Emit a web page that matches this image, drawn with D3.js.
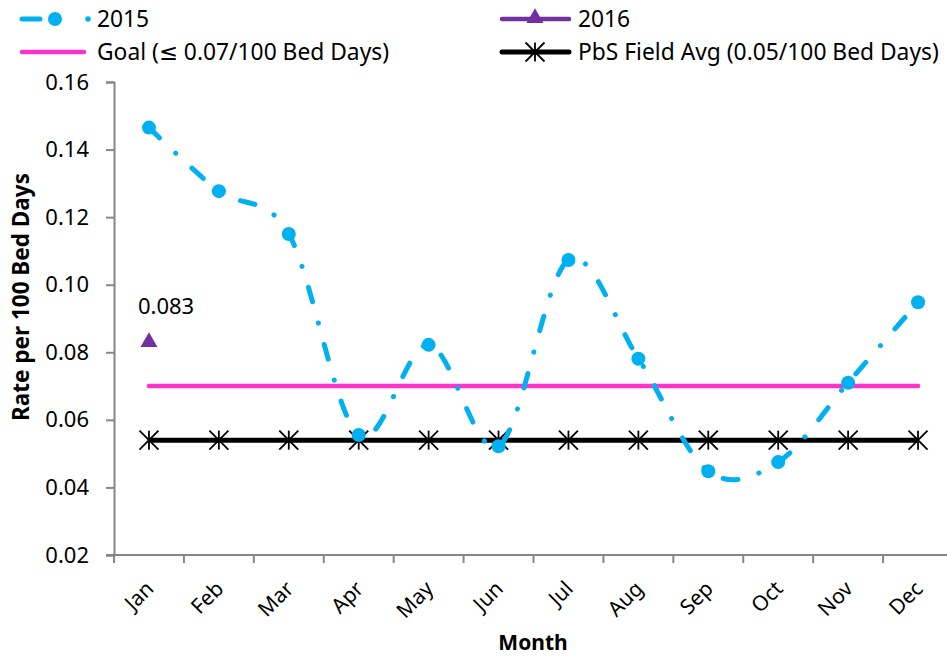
<!DOCTYPE html>
<html>
<head>
<meta charset="utf-8">
<script src="https://cdn.jsdelivr.net/npm/d3@7"></script>
<style>
  body { margin: 0; background: #fff; }
  svg text { font-family: "Noto Sans", "DejaVu Sans", sans-serif; fill: #000; }
</style>
</head>
<body>
<script>
const months = ['Jan', 'Feb', 'Mar', 'Apr', 'May', 'Jun', 'Jul', 'Aug', 'Sep', 'Oct', 'Nov', 'Dec'];
const rate2015 = [0.1465, 0.1277, 0.115, 0.0555, 0.0822, 0.0522, 0.1073, 0.0781, 0.0448, 0.0475, 0.0710, 0.0948];
const rate2016 = [0.083];
const goal = 0.07;
const fieldAvg = 0.054;
const yTicks = [0.02, 0.04, 0.06, 0.08, 0.10, 0.12, 0.14, 0.16];

const width = 947;
const height = 656;
const margin = { left: 114, right: -6, top: 82, bottom: 101 };

const svg = d3.select('body').append('svg')
  .attr('width', width)
  .attr('height', height)
;

const x = d3.scaleBand()
  .domain(months)
  .range([margin.left, width - margin.right])
;
const y = d3.scaleLinear()
  .domain([0.02, 0.16])
  .range([height - margin.bottom, margin.top])
;
const cx = m => x(m) + x.bandwidth() / 2;

const axisColor = '#868686';
const cyan = '#00B0F0';
const purple = '#7030A0';
const pink = '#FF33CC';

// y axis
const yAxis = svg.append('g')
  .attr('transform', `translate(${margin.left},0)`)
  .call(d3.axisLeft(y).tickValues(yTicks).tickFormat(d3.format('.2f')).tickSize(8).tickPadding(17));
yAxis.select('.domain').attr('stroke', axisColor).attr('stroke-width', 2);
yAxis.selectAll('.tick line').attr('stroke', axisColor).attr('stroke-width', 2);
yAxis.selectAll('.tick text').style('font-size', '22px');

// x axis, ticks at category boundaries
const xAxisG = svg.append('g')
  .attr('transform', `translate(0,${y(0.02)})`);
xAxisG.append('line')
  .attr('x1', margin.left - 8).attr('x2', width - margin.right)
  .attr('stroke', axisColor).attr('stroke-width', 2);
xAxisG.selectAll('.xtick')
  .data(months)
  .enter().append('line')
  .attr('x1', d => x(d)).attr('x2', d => x(d))
  .attr('y1', 0).attr('y2', 8)
  .attr('stroke', axisColor).attr('stroke-width', 2);
xAxisG.selectAll('.xlabel')
  .data(months)
  .enter().append('text')
  .attr('transform', d => `translate(${cx(d) + 6},${35}) rotate(-45)`)
  .attr('text-anchor', 'end')
  .style('font-size', '21px')
  .text(d => d);

// axis titles
svg.append('text')
  .attr('x', 533).attr('y', 650)
  .attr('text-anchor', 'middle')
  .style('font-size', '21px').style('font-weight', 'bold')
  .text('Month');
svg.append('text')
  .attr('transform', 'translate(29,297) rotate(-90)')
  .attr('text-anchor', 'middle')
  .style('font-size', '22.5px').style('font-weight', 'bold')
  .text('Rate per 100 Bed Days');

// goal line
svg.append('line')
  .attr('x1', cx('Jan')).attr('x2', cx('Dec'))
  .attr('y1', y(goal)).attr('y2', y(goal))
  .attr('stroke', pink).attr('stroke-width', 4.5)
  .attr('stroke-linecap', 'round');

// field avg line with star markers
svg.append('line')
  .attr('x1', cx('Jan')).attr('x2', cx('Dec'))
  .attr('y1', y(fieldAvg)).attr('y2', y(fieldAvg))
  .attr('stroke', '#000').attr('stroke-width', 5);

function star(g, px, py, r) {
  [[0, -r, 0, r],
   [-r, -r, r, r],
   [-r, r, r, -r]]
    .forEach(s => g.append('line')
      .attr('x1', px + s[0]).attr('y1', py + s[1])
      .attr('x2', px + s[2]).attr('y2', py + s[3])
      .attr('stroke', '#000').attr('stroke-width', 1.8));
}
const starLayer = svg.append('g');
months.forEach(m => star(starLayer, cx(m), y(fieldAvg), 9.5));

// 2015 smoothed dash-dot line
const line = d3.line()
  .x((d, i) => cx(months[i]))
  .y(d => y(d))
  .curve(d3.curveCardinal.tension(0));
svg.append('path')
  .datum(rate2015)
  .attr('d', line)
  .attr('fill', 'none')
  .attr('stroke', cyan)
  .attr('stroke-width', 5)
  .attr('stroke-linecap', 'round')
  .attr('stroke-dasharray', '15 22 0.1 22');
svg.append('g')
  .selectAll('circle')
  .data(rate2015)
  .enter().append('circle')
  .attr('cx', (d, i) => cx(months[i]))
  .attr('cy', d => y(d))
  .attr('r', 7)
  .attr('fill', cyan);

// 2016
const tri = d3.symbol().type(d3.symbolTriangle).size(125);
svg.append('g')
  .selectAll('path')
  .data(rate2016)
  .enter().append('path')
  .attr('d', tri)
  .attr('transform', (d, i) => `translate(${cx(months[i])},${y(d)})`)
  .attr('fill', purple);
svg.append('g')
  .selectAll('text')
  .data(rate2016)
  .enter().append('text')
  .attr('x', (d, i) => cx(months[i]) - 11)
  .attr('y', d => y(d) - 28)
  .style('font-size', '22px')
  .text(d => d3.format('.3f')(d));

// legend
const lg = svg.append('g');
const legendText = (tx, ty, t) => lg.append('text')
  .attr('x', tx).attr('y', ty).attr('dy', '0.35em')
  .style('font-size', '22.8px').text(t);

// 2015
lg.append('line').attr('x1', 22).attr('x2', 40).attr('y1', 19).attr('y2', 19)
  .attr('stroke', cyan).attr('stroke-width', 5).attr('stroke-linecap', 'round');
lg.append('circle').attr('cx', 55).attr('cy', 19).attr('r', 7).attr('fill', cyan);
lg.append('circle').attr('cx', 88).attr('cy', 19).attr('r', 2.8).attr('fill', cyan);
legendText(97, 19, '2015');

// 2016
lg.append('line').attr('x1', 502).attr('x2', 569).attr('y1', 19).attr('y2', 19)
  .attr('stroke', purple).attr('stroke-width', 4.5).attr('stroke-linecap', 'round');
lg.append('path').attr('d', tri).attr('transform', 'translate(535,18)').attr('fill', purple);
legendText(578, 19, '2016');

// goal
lg.append('line').attr('x1', 22).attr('x2', 84).attr('y1', 52).attr('y2', 52)
  .attr('stroke', pink).attr('stroke-width', 4.5).attr('stroke-linecap', 'round');
legendText(97, 52, 'Goal (≤ 0.07/100 Bed Days)');

// field avg
lg.append('line').attr('x1', 502).attr('x2', 569).attr('y1', 52).attr('y2', 52)
  .attr('stroke', '#000').attr('stroke-width', 5).attr('stroke-linecap', 'round');
star(lg, 535, 52, 9.5);
legendText(578, 52, 'PbS Field Avg (0.05/100 Bed Days)');
</script>
</body>
</html>
